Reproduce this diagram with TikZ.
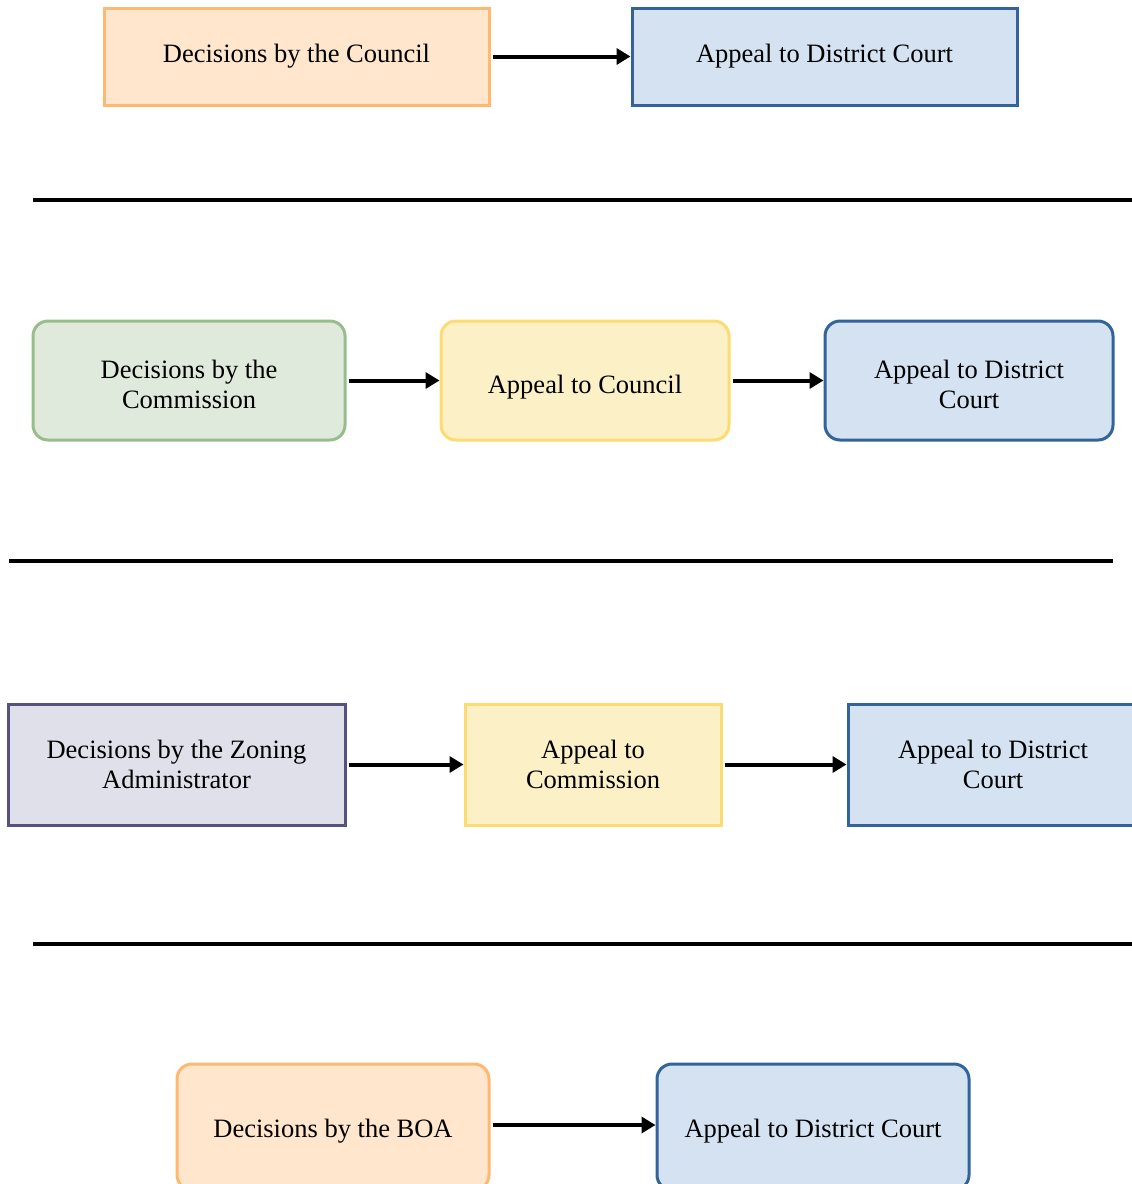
\documentclass[tikz,border=0pt]{standalone}
\usepackage{fontspec}
\setmainfont{Liberation Serif}
\usetikzlibrary{arrows.meta}
\definecolor{orfill}{HTML}{FFE6CC}
\definecolor{ordraw}{HTML}{FFB870}
\definecolor{blfill}{HTML}{D4E2F1}
\definecolor{bldraw}{HTML}{326399}
\definecolor{grfill}{HTML}{E0EADC}
\definecolor{grdraw}{HTML}{97BE8A}
\definecolor{yefill}{HTML}{FCF0C7}
\definecolor{yedraw}{HTML}{FCDC70}
\definecolor{pufill}{HTML}{E0E0EA}
\definecolor{pudraw}{HTML}{56517E}
\tikzset{
  txt/.style={align=center, inner sep=0pt, font=\fontsize{26.5}{30.5}\selectfont, text=black},
  box/.style={draw, line width=3pt, txt},
  rbox/.style={box, rounded corners=15pt},
  lbl/.style={txt, yshift=#1},
  orbox/.style={fill=orfill, draw=ordraw},
  blbox/.style={fill=blfill, draw=bldraw},
  grbox/.style={fill=grfill, draw=grdraw},
  yebox/.style={fill=yefill, draw=yedraw},
  pubox/.style={fill=pufill, draw=pudraw},
  arr/.style={line width=4pt, -{Triangle[length=14pt,width=16pt]}, shorten <=2pt},
  sep/.style={line width=4.5pt}
}
\begin{document}
\begin{tikzpicture}[x=1pt,y=-1pt]
\useasboundingbox (0,0) rectangle (1132,1184);
\clip (0,0) rectangle (1132,1184);
% Row 1
\node[box, orbox, minimum width=385pt, minimum height=97pt] (b11) at (296.5,56.5) {Decisions by the Council};
\node[box, blbox, minimum width=385pt, minimum height=97pt] (b12) at (824.5,56.5) {Appeal to District Court};
\draw[arr] (b11) -- (b12);
% separator
\coordinate (s1a) at (33,200);
\coordinate (s1b) at (1132,200);
\draw[sep] (s1a) -- (s1b);
% Row 2
\node[rbox, grbox, minimum width=312pt, minimum height=119pt,
  label={[lbl=-4pt]center:{Decisions by the\\Commission}}] (b21) at (189,380.5) {};
\node[rbox, yebox, minimum width=288pt, minimum height=119pt,
  label={[lbl=-7pt]center:{Appeal to Council}}] (b22) at (585,380.5) {};
\node[rbox, blbox, minimum width=288pt, minimum height=119pt,
  label={[lbl=-4pt]center:{Appeal to District\\Court}}] (b23) at (969,380.5) {};
\draw[arr] (b21) -- (b22);
\draw[arr] (b22) -- (b23);
% separator
\coordinate (s2a) at (9,561);
\coordinate (s2b) at (1113,561);
\draw[sep] (s2a) -- (s2b);
% Row 3
\node[box, pubox, minimum width=337pt, minimum height=121pt] (b31) at (176.5,764.5) {Decisions by the Zoning\\Administrator};
\node[box, yebox, minimum width=256pt, minimum height=121pt] (b32) at (593,764.5) {Appeal to\\Commission};
\node[box, blbox, minimum width=290pt, minimum height=121pt] (b33) at (993,764.5) {Appeal to District\\Court};
\draw[arr] (b31) -- (b32);
\draw[arr] (b32) -- (b33);
% separator
\coordinate (s3a) at (33,944);
\coordinate (s3b) at (1132,944);
\draw[sep] (s3a) -- (s3b);
% Row 4
\node[rbox, orbox, minimum width=312pt, minimum height=126pt,
  label={[lbl=-4pt]center:{Decisions by the BOA}}] (b41) at (333,1127) {};
\node[rbox, blbox, minimum width=312pt, minimum height=126pt,
  label={[lbl=-4pt]center:{Appeal to District Court}}] (b42) at (813,1127) {};
\draw[arr] (b41.east |- 0,1125) -- (b42.west |- 0,1125);
\end{tikzpicture}
\end{document}
